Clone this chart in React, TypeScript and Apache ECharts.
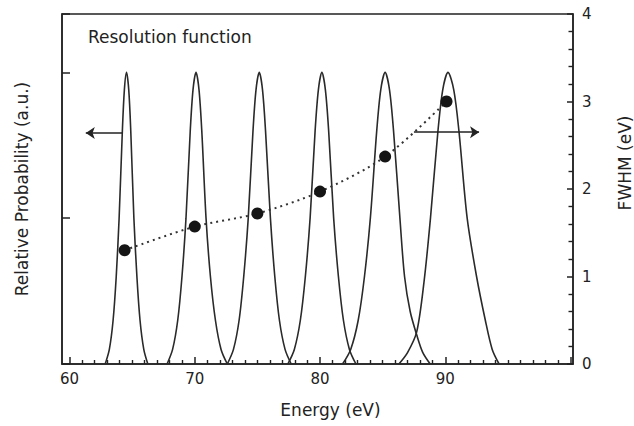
import React, { useEffect, useRef } from "react";
import * as echarts from "echarts";

// Energy axis tick values
const energyLabels = [60, 70, 80, 90];
const energyMajorTicks = [60, 70, 80, 90, 100];
const energyMinorTicks = [
  61, 62, 63, 64, 65, 66, 67, 68, 69,
  71, 72, 73, 74, 75, 76, 77, 78, 79,
  81, 82, 83, 84, 85, 86, 87, 88, 89,
  91, 92, 93, 94, 95, 96, 97, 98, 99,
];

// Resolution function peaks: [energy (eV), relative probability]
const peak65: [number, number][] = [
  [62.85, 0], [63.18, 0.05], [63.48, 0.15], [63.73, 0.3], [63.96, 0.5], [64.22, 0.8], [64.38, 0.94],
  [64.55, 1], [64.73, 0.94], [64.89, 0.8], [65.14, 0.5], [65.38, 0.3], [65.63, 0.15], [65.93, 0.05], [66.25, 0],
];
const peak70: [number, number][] = [
  [67.79, 0], [68.23, 0.05], [68.64, 0.15], [68.98, 0.3], [69.3, 0.5], [69.64, 0.8], [69.86, 0.94],
  [70.1, 1], [70.34, 0.94], [70.56, 0.8], [70.9, 0.5], [71.25, 0.3], [71.65, 0.15], [72.1, 0.05], [72.6, 0],
];
const peak75: [number, number][] = [
  [72.6, 0], [73.09, 0.05], [73.54, 0.15], [73.91, 0.3], [74.27, 0.5], [74.65, 0.8], [74.89, 0.94],
  [75.15, 1], [75.41, 0.94], [75.65, 0.8], [76.04, 0.5], [76.39, 0.3], [76.76, 0.15], [77.21, 0.05], [77.7, 0],
];
const peak80: [number, number][] = [
  [77.43, 0], [77.95, 0.05], [78.43, 0.15], [78.83, 0.3], [79.21, 0.5], [79.61, 0.8], [79.87, 0.94],
  [80.15, 1], [80.43, 0.94], [80.69, 0.8], [81.09, 0.5], [81.47, 0.3], [81.87, 0.15], [82.35, 0.05], [82.87, 0],
];
const peak85: [number, number][] = [
  [81.8, 0], [82.45, 0.05], [83.05, 0.15], [83.55, 0.3], [84.02, 0.5], [84.53, 0.8], [84.85, 0.94],
  [85.2, 1], [85.55, 0.94], [85.87, 0.8], [86.38, 0.5], [86.75, 0.3], [87.2, 0.18], [87.72, 0.1], [88.2, 0.04], [88.8, 0],
];
const peak90: [number, number][] = [
  [86.3, 0], [87.0, 0.04], [87.72, 0.11], [88.3, 0.28], [88.82, 0.5], [89.42, 0.8], [89.8, 0.94],
  [90.22, 1], [90.68, 0.94], [91.09, 0.8], [91.75, 0.5], [92.5, 0.3], [93.2, 0.15], [93.75, 0.05], [94.3, 0],
];
const peaks = [peak65, peak70, peak75, peak80, peak85, peak90];

// FWHM points
const fwhmEnergy = [64.4, 70.0, 75.0, 80.0, 85.2, 90.1];
const fwhmValue = [1.3, 1.57, 1.72, 1.97, 2.37, 3.0];

// Arrows (energy, FWHM-axis value)
const leftArrow: [number, number][] = [[64.2, 2.64], [61.3, 2.64]];
const rightArrow: [number, number][] = [[87.5, 2.65], [92.7, 2.65]];

const FONT = "DejaVu Sans";
const INK = "#222";
const GRID_TOP = 14;
const GRID_BOTTOM = 62;
const GRID_HEIGHT = 426 - GRID_TOP - GRID_BOTTOM;

export default function App() {
  const ref = useRef<HTMLDivElement>(null);
  useEffect(() => {
    if (!ref.current) return;
    const chart = echarts.init(ref.current, undefined, { renderer: "svg" });
    const axisLineStyle = { color: INK, width: 1.5 };
    chart.setOption({
      animation: false,
      backgroundColor: "#fff",
      title: {
        text: "Resolution function",
        left: 88,
        top: 28,
        padding: 0,
        textStyle: { fontFamily: FONT, fontSize: 17, fontWeight: "normal", color: INK },
      },
      grid: {
        left: 62, right: 61, top: GRID_TOP, bottom: GRID_BOTTOM,
        show: true, borderColor: INK, borderWidth: 1.5, backgroundColor: "transparent",
      },
      xAxis: [
        {
          type: "value", min: 59.4, max: 100.2, position: "bottom",
          axisLine: { show: true, lineStyle: axisLineStyle },
          axisTick: { show: true, inside: true, length: 7, customValues: energyMajorTicks, lineStyle: axisLineStyle },
          axisLabel: { customValues: energyLabels, margin: 7, fontFamily: FONT, fontSize: 15, color: INK },
          splitLine: { show: false },
          name: "Energy (eV)", nameLocation: "middle", nameGap: 37,
          nameTextStyle: { fontFamily: FONT, fontSize: 17, color: INK, padding: [0, 0, 0, 26] },
        },
        {
          // minor ticks, moved from the top down onto the bottom axis line
          type: "value", min: 59.4, max: 100.2, position: "top", offset: -GRID_HEIGHT,
          axisLine: { show: false },
          axisTick: { show: true, inside: false, length: 4, customValues: energyMinorTicks, lineStyle: { color: INK, width: 1.4 } },
          axisLabel: { show: false },
          splitLine: { show: false },
        },
      ],
      yAxis: [
        {
          type: "value", min: 0, max: 1.2, interval: 0.5, position: "left",
          axisLine: { show: true, lineStyle: axisLineStyle },
          axisTick: { show: true, inside: true, length: 8, lineStyle: axisLineStyle },
          axisLabel: { show: false },
          splitLine: { show: false },
          name: "Relative Probability (a.u.)", nameLocation: "middle", nameGap: 32, nameRotate: 90,
          nameTextStyle: { fontFamily: FONT, fontSize: 17, color: INK },
        },
        {
          type: "value", min: 0, max: 4, interval: 1, position: "right",
          axisLine: { show: true, lineStyle: axisLineStyle },
          axisTick: { show: true, inside: true, length: 6, lineStyle: axisLineStyle },
          minorTick: { show: true, splitNumber: 5, length: 4.5, lineStyle: { color: INK, width: 1.4 } },
          axisLabel: { margin: 9, fontFamily: FONT, fontSize: 15, color: INK },
          splitLine: { show: false },
        },
      ],
      graphic: [
        {
          type: "text", x: 625, y: 163, rotation: Math.PI / 2,
          style: { text: "FWHM (eV)", fontFamily: FONT, fontSize: 17, fill: INK, textAlign: "center", textVerticalAlign: "middle" },
        },
      ],
      series: [
        ...peaks.map((p) => ({
          type: "line", xAxisIndex: 0, yAxisIndex: 0, data: p,
          showSymbol: false, smooth: 0.3, silent: true,
          lineStyle: { color: "#2a2a2a", width: 1.6 },
        })),
        {
          type: "line", xAxisIndex: 0, yAxisIndex: 1,
          data: fwhmEnergy.map((x, i) => [x, fwhmValue[i]]),
          symbol: "circle", symbolSize: 12, showSymbol: true, smooth: 0.3, silent: true,
          itemStyle: { color: "#151515" },
          lineStyle: { type: [2, 4], width: 2, color: "#333" },
          markLine: {
            silent: true, symbol: ["none", "arrow"], symbolSize: 9,
            label: { show: false },
            lineStyle: { type: "solid", color: INK, width: 1.5 },
            data: [
              [{ coord: leftArrow[0] }, { coord: leftArrow[1] }],
              [{ coord: rightArrow[0] }, { coord: rightArrow[1] }],
            ],
          },
        },
      ],
    });
    return () => chart.dispose();
  }, []);
  return (
    <div
      ref={ref}
      style={{ position: "fixed", left: 0, top: 0, width: 634, height: 426, background: "#fff" }}
    />
  );
}
